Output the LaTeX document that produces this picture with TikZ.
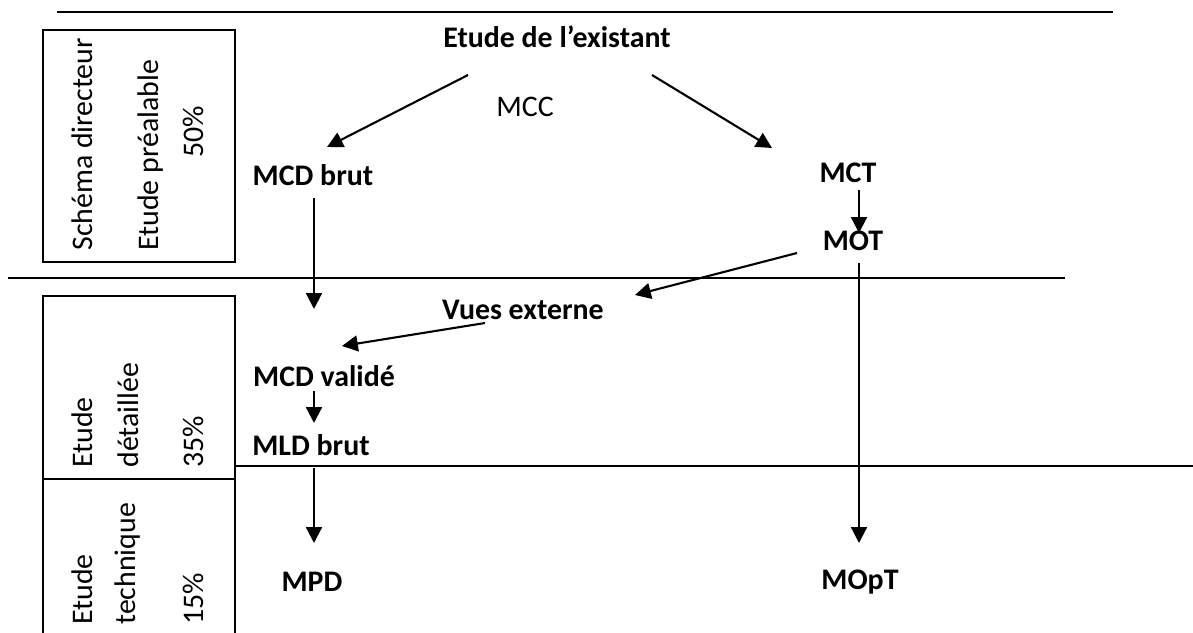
\documentclass[tikz,border=0pt]{standalone}
\usepackage{fontspec}
\setmainfont{Carlito}
\usetikzlibrary{arrows.meta,calc}

\begin{document}
\begin{tikzpicture}[x=0.02cm,y=-0.02cm,
            every node/.style={inner sep=0pt,font=\fontsize{17}{20}\selectfont},
            model/.style={font=\fontsize{17}{20}\selectfont\bfseries},
            phase/.style={rotate=90,anchor=west},
            arr/.style={line width=1.2pt,-{Triangle[length=9pt,width=9pt]}},
            rule/.style={line width=1pt}]
            \useasboundingbox (0,0) rectangle (1193,632);
            \draw [rule] (57,12) -- (1113,12);
            \draw [rule] (8,278) -- (1065,278);
            \draw [rule] (235,466) -- (1193,466);
            \draw [rule] (43,30) rectangle (235,262);
            \draw [rule] (43,640) -- (43,296) -- (235,296) -- (235,640);
            \draw [rule] (43,479) -- (235,479);
            \node [phase] (sd) at (82,251) {Schéma directeur};
            \node [phase] (ep) at (151,251) {Etude préalable};
            \node [rotate=90] (p50) at (193,132) {50\%};
            \node [phase] (ed1) at (82,468) {Etude};
            \node [phase] (ed2) at (128,468) {détaillée};
            \node [phase] (p35) at (193,468) {35\%};
            \node [phase] (et1) at (82,625) {Etude};
            \node [phase] (et2) at (128,625) {technique};
            \node [phase] (p15) at (193,625) {15\%};
            \node [model] (exist) at (557,37) {Etude de l’existant};
            \node (mcc) at (525,107) {MCC};
            \node [model] (mcdb) at (313,175) {MCD brut};
            \node [model] (mct) at (848,173) {MCT};
            \node [model] (mot) at (853,241) {MOT};
            \node [model] (vues) at (523,310) {Vues externe};
            \node [model] (mcdv) at (324,376) {MCD validé};
            \node [model] (mldb) at (311,445) {MLD brut};
            \node [model] (mpd) at (312,582) {MPD};
            \node [model] (mopt) at (860,582) {MOpT};
            \draw [arr] ($(exist)+(-89,38)$) -- ($(mcdb)+(14,-28)$);
            \draw [arr] ($(exist)+(95,38)$) -- ($(mct)+(-76,-25)$);
            \draw [arr] ($(mct)+(11,17)$) -- ($(mot)+(6,-8)$);
            \draw [arr] ($(mcdb)+(1,23)$) -- ($(mcdv)+(-10,-67)$);
            \draw [arr] ($(mot)+(-56,12)$) -- ($(vues)+(112,-15)$);
            \draw [arr] ($(vues)+(-38,13)$) -- ($(mcdv)+(18,-30)$);
            \draw [arr] ($(mcdv)+(-10,15)$) -- ($(mldb)+(3,-22)$);
            \draw [arr] ($(mldb)+(3,23)$) -- ($(mpd)+(2,-39)$);
            \draw [arr] ($(mot)+(6,22)$) -- ($(mopt)+(-1,-39)$);
        \end{tikzpicture}
\end{document}
